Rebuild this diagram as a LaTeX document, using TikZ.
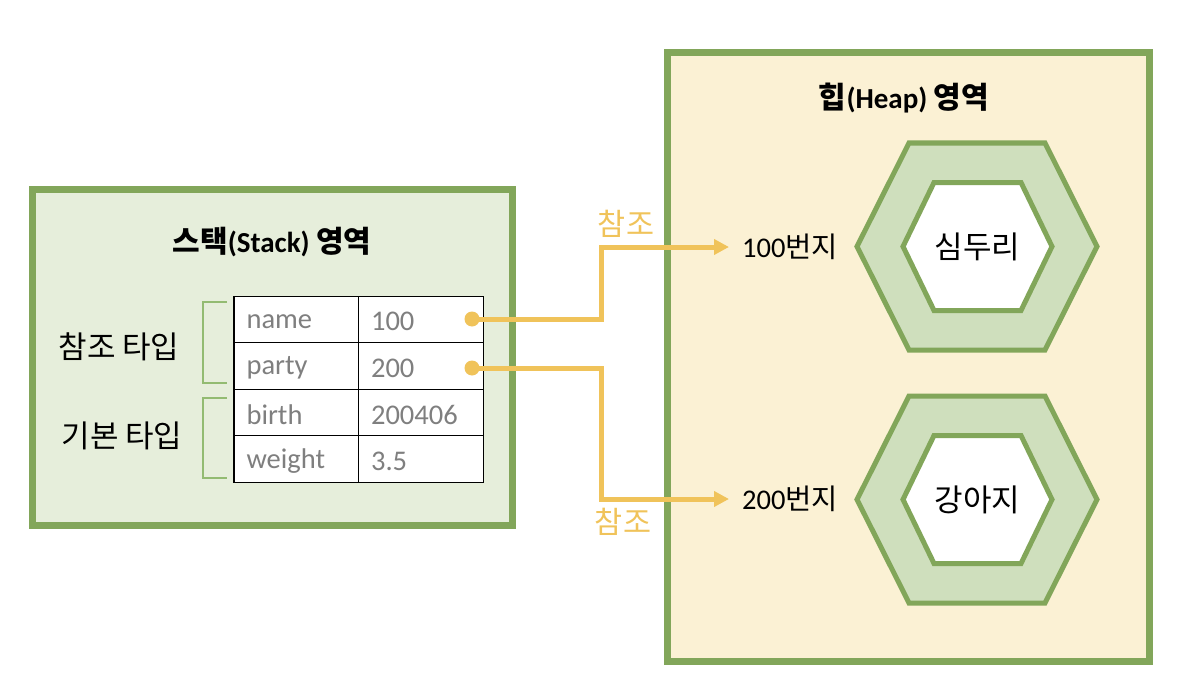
\documentclass[tikz,border=0pt]{standalone}
\usepackage{fontspec}
\setmainfont{Carlito}
\newfontfamily\kr{Noto Sans CJK KR}
\usetikzlibrary{arrows.meta}
\definecolor{gstroke}{HTML}{82A65A}
\definecolor{stackfill}{HTML}{E6EEDB}
\definecolor{heapfill}{HTML}{FBF1D4}
\definecolor{hexfill}{HTML}{CFDFBD}
\definecolor{refyel}{HTML}{F0C35A}
\definecolor{brk}{HTML}{93BB72}
\definecolor{celltxt}{HTML}{7F7F7F}
\tikzset{
  area/.style={draw=gstroke, line width=7pt},
  hexout/.style={draw=gstroke, fill=hexfill, line width=5pt, line join=miter},
  hexin/.style={draw=gstroke, fill=white, line width=5pt, line join=miter},
  cell/.style={draw=black, line width=1.3pt, fill=white, minimum width=125pt, minimum height=46.5pt, inner sep=0pt},
  celltext/.style={anchor=west, inner sep=0pt, text=celltxt, font=\fontsize{28.5}{30}\selectfont},
  dot/.style={circle, fill=refyel, minimum size=15pt, inner sep=0pt},
  refline/.style={draw=refyel, line width=5pt, -{Triangle[length=15pt,width=15pt]}},
  reflabel/.style={text=refyel, font=\kr\fontsize{30.5}{32}\selectfont, inner sep=0pt},
  title/.style={font=\bfseries\fontsize{29}{31}\selectfont, inner sep=0pt},
  krlabel/.style={font=\kr\fontsize{31}{33}\selectfont, inner sep=0pt},
  addr/.style={anchor=west, font=\fontsize{28.5}{30}\selectfont, inner sep=0pt},
  bracket/.style={draw=brk, line width=1.6pt},
}
\begin{document}
\begin{tikzpicture}[x=1pt,y=-1pt]
\useasboundingbox (0,0) rectangle (1180,698);
% areas
\draw[area, fill=stackfill] (32,189.5) rectangle (512,525);
\draw[area, fill=heapfill] (667,53) rectangle (1149,661);
% titles
\node[title] (stitle) at (272,242) {{\kr\fontsize{30}{31}\selectfont 스택}(Stack) {\kr\fontsize{30}{31}\selectfont 영역}};
\node[title] (htitle) at (904,98) {{\kr\fontsize{30}{31}\selectfont 힙}(Heap) {\kr\fontsize{30}{31}\selectfont 영역}};
% table
\node[cell] (c11) at (296.5,319.5) {};
\node[cell] (c12) at (421,319.5) {};
\node[cell] (c21) at (296.5,366) {};
\node[cell] (c22) at (421,366) {};
\node[cell] (c31) at (296.5,412.5) {};
\node[cell] (c32) at (421,412.5) {};
\node[cell] (c41) at (296.5,459) {};
\node[cell] (c42) at (421,459) {};
\node[celltext] (t11) at ([xshift=13pt,yshift=-2pt]c11.west) {name};
\node[celltext] (t12) at ([xshift=13pt,yshift=-2pt]c12.west) {100};
\node[celltext] (t21) at ([xshift=13pt,yshift=-2pt]c21.west) {party};
\node[celltext] (t22) at ([xshift=13pt,yshift=-2pt]c22.west) {200};
\node[celltext] (t31) at ([xshift=13pt,yshift=-2pt]c31.west) {birth};
\node[celltext] (t32) at ([xshift=13pt,yshift=-2pt]c32.west) {200406};
\node[celltext] (t41) at ([xshift=13pt,yshift=-2pt]c41.west) {weight};
\node[celltext] (t42) at ([xshift=13pt,yshift=-2pt]c42.west) {3.5};
% brackets and type labels
\draw[bracket] (227,302) -- (203,302) -- (203,383) -- (227,383);
\draw[bracket] (227,398) -- (203,398) -- (203,478) -- (227,478);
\node[krlabel] (rtype) at (119,347) {참조 타입};
\node[krlabel] (btype) at (122,436) {기본 타입};
% hexagons
\foreach \cy/\nm/\lbl in {246.5/h1/심두리, 499.5/h2/강아지}{
  \draw[hexout] (857,\cy) -- (909,\cy-103.5) -- (1045,\cy-103.5) -- (1097,\cy) -- (1045,\cy+103.5) -- (909,\cy+103.5) -- cycle;
  \draw[hexin] (903,\cy) -- (934,\cy-64) -- (1021,\cy-64) -- (1052,\cy) -- (1021,\cy+64) -- (934,\cy+64) -- cycle;
  \node[krlabel] (\nm) at (977.5,\cy) {\lbl};
}
% addresses
\node[addr] (a1) at (742,247) {100{\kr 번지}};
\node[addr] (a2) at (742,499) {200{\kr 번지}};
% dots and references
\node[dot] (d1) at (472,319) {};
\node[dot] (d2) at (472,368) {};
\coordinate (m) at (601,0);
\draw[refline, shorten >=13pt] (d1.center) -- (d1.center -| m) -- (m |- a1.west) -- (a1.west);
\draw[refline, shorten >=13pt] (d2.center) -- (d2.center -| m) -- (m |- a2.west) -- (a2.west);
\node[reflabel] (r1) at (626,224) {참조};
\node[reflabel] (r2) at (623,522) {참조};
\end{tikzpicture}
\end{document}
